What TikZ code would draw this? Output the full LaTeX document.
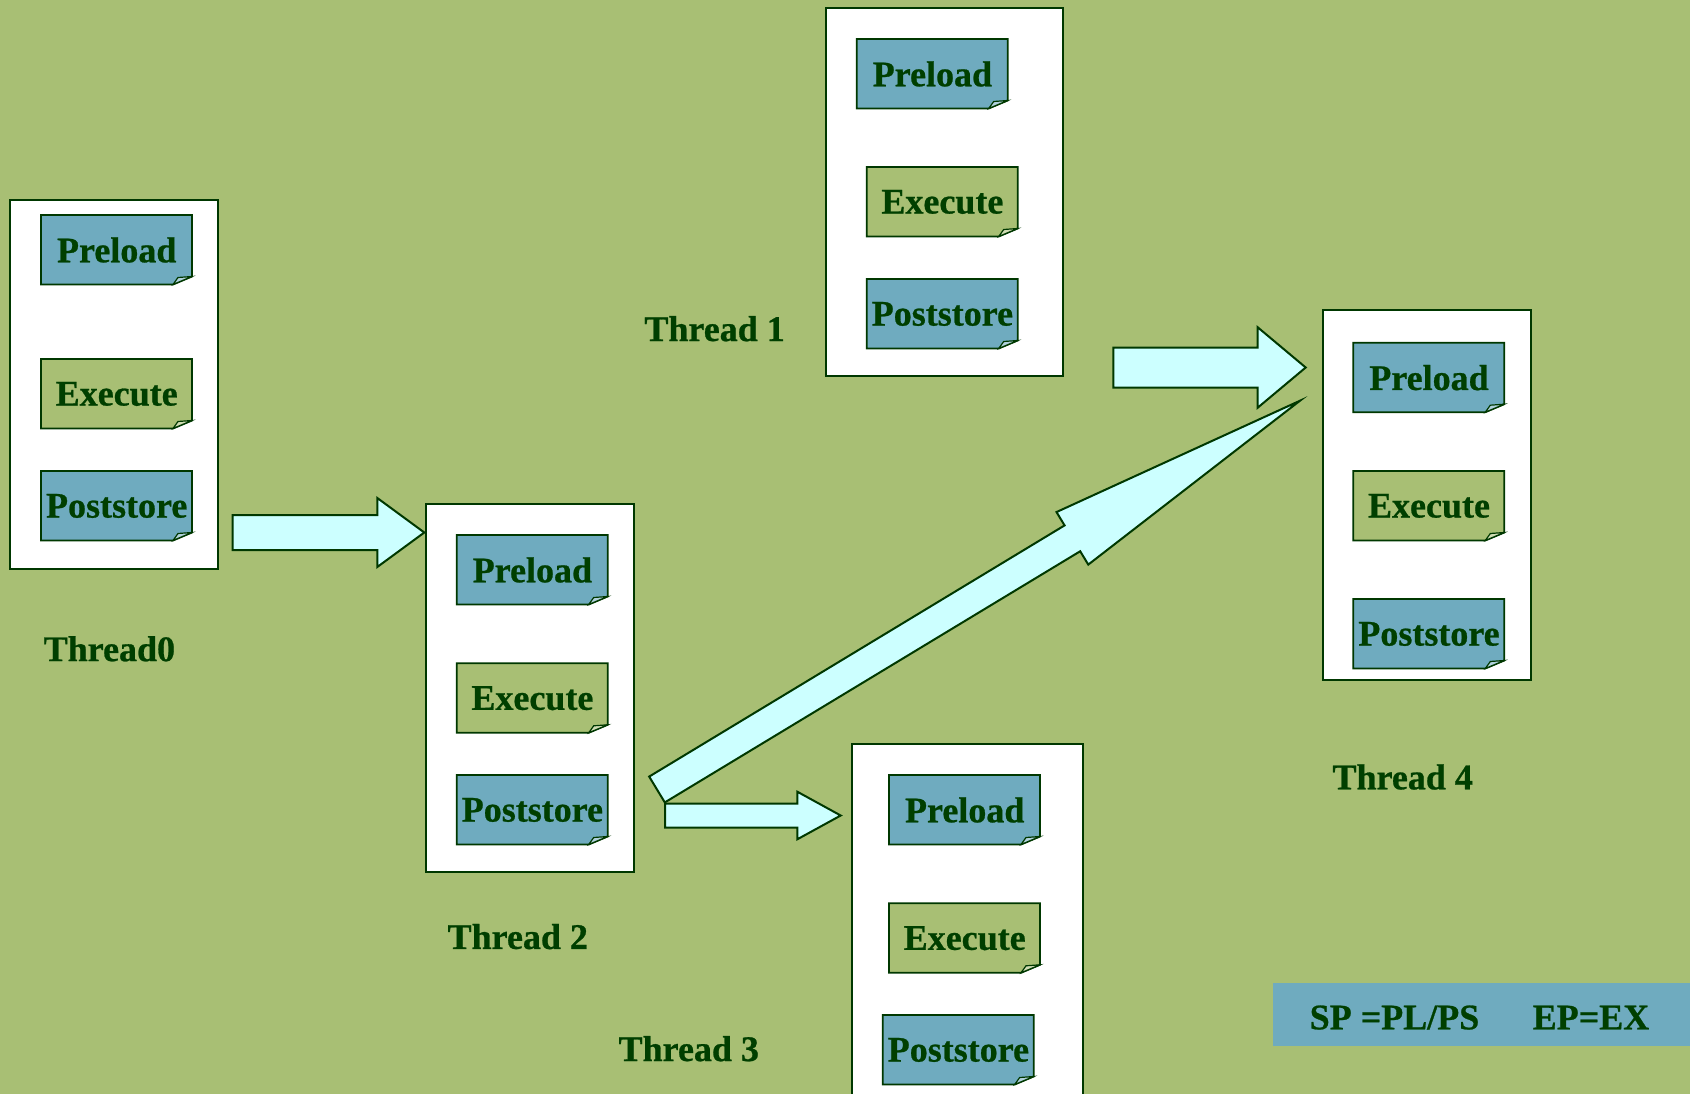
\documentclass[tikz,border=0pt]{standalone}
\usepackage{fontspec}
\setmainfont[BoldFeatures={FakeBold=0.7}]{Liberation Serif}
\usetikzlibrary{calc}

\definecolor{bg}{HTML}{A8BF74}
\definecolor{noteblue}{HTML}{6FABBF}
\definecolor{ink}{HTML}{003F00}
\definecolor{edge}{HTML}{003800}
\definecolor{flow}{HTML}{CCFFFF}

\tikzset{
  threadframe/.style={draw=edge, line width=2pt, fill=white, inner sep=0pt, anchor=north west},
  notebody/.style={draw=edge, line width=1.8pt, line join=miter, fill=#1},
  notecurl/.style={draw=edge, line width=1.2pt, fill=#1!55!white},
  notetext/.style={inner sep=0pt, text=ink, font=\fontsize{36}{40}\selectfont\bfseries,
                   anchor=north west, minimum width=151pt, minimum height=69.5pt},
  threadlabel/.style={inner sep=0pt, text=ink, font=\fontsize{36}{40}\selectfont\bfseries},
  legendtext/.style={inner sep=0pt, text=ink, font=\fontsize{36}{40}\selectfont\bfseries, anchor=base west},
  flowarrow/.style={draw=edge, line width=2pt, fill=flow, line join=miter},
}

% folded-corner note: name, x, y (top left), fill colour, text
\newcommand\stepnote[5]{%
  \filldraw[notebody=#4] (#2,#3) -- ++(151,0) -- ++(0,61.5) -- ++(-19,8) -- ++(-132,0) -- cycle;
  \filldraw[notecurl=#4] ($(#2,#3)+(132,69.5)$) -- ++(5,-7) -- ++(14,-1) -- cycle;
  \node[notetext] (#1) at (#2,#3) {#5};
}

% block arrow: tail, tip, shaft half width, head half width, head length
\newcommand\blockarrow[5]{%
  \coordinate (ba-base) at ($(#2)!#5!(#1)$);
  \draw[flowarrow] ($(#1)!#3!90:(#2)$) -- ($(ba-base)!#3!90:(#2)$)
     -- ($(ba-base)!#4!90:(#2)$) -- (#2) -- ($(ba-base)!#4!-90:(#2)$)
     -- ($(ba-base)!#3!-90:(#2)$) -- ($(#1)!#3!-90:(#2)$) -- cycle;
}

\begin{document}
\begin{tikzpicture}[x=1pt,y=-1pt]
\useasboundingbox (0,0) rectangle (1690,1094);
\fill[bg] (0,0) rectangle (1690,1094);
\clip (0,0) rectangle (1690,1094);

% thread frames
\node[threadframe, minimum width=207.7pt, minimum height=368.4pt] (t0) at (9,199.3) {};
\node[threadframe, minimum width=236.7pt, minimum height=367.7pt] (t1) at (825,7.3) {};
\node[threadframe, minimum width=207.7pt, minimum height=367.7pt] (t2) at (425,503.3) {};
\node[threadframe, minimum width=231pt,   minimum height=368pt]   (t3) at (850.7,743.3) {};
\node[threadframe, minimum width=207.7pt, minimum height=370.3pt] (t4) at (1322.3,309) {};

% stages of each thread
\stepnote{t0pl}{41}{215}{noteblue}{Preload}
\stepnote{t0ex}{41}{359}{bg}{Execute}
\stepnote{t0ps}{41}{471}{noteblue}{Poststore}

\stepnote{t1pl}{856.7}{39}{noteblue}{Preload}
\stepnote{t1ex}{866.7}{167}{bg}{Execute}
\stepnote{t1ps}{866.7}{279}{noteblue}{Poststore}

\stepnote{t2pl}{456.7}{535}{noteblue}{Preload}
\stepnote{t2ex}{456.7}{663.3}{bg}{Execute}
\stepnote{t2ps}{456.7}{775}{noteblue}{Poststore}

\stepnote{t3pl}{889}{775}{noteblue}{Preload}
\stepnote{t3ex}{889}{903.3}{bg}{Execute}
\stepnote{t3ps}{882.7}{1015}{noteblue}{Poststore}

\stepnote{t4pl}{1353.3}{342.7}{noteblue}{Preload}
\stepnote{t4ex}{1353.3}{471}{bg}{Execute}
\stepnote{t4ps}{1353.3}{599}{noteblue}{Poststore}

% thread names
\node[threadlabel] (l0) at (109.4,648.8) {Thread0};
\node[threadlabel] (l1) at (714.6,328.7) {Thread 1};
\node[threadlabel] (l2) at (517.8,936.6) {Thread 2};
\node[threadlabel] (l3) at (688.8,1048.7) {Thread 3};
\node[threadlabel] (l4) at (1402.7,777) {Thread 4};

% hand-over arrows
\coordinate (a1tail) at (232.7,532.5);
\coordinate (a1tip)  at (424.3,532.5);
\blockarrow{a1tail}{a1tip}{17.5pt}{34.5pt}{47pt}

\coordinate (a2tail) at (1113.3,367.5);
\coordinate (a2tip)  at (1305.7,367.5);
\blockarrow{a2tail}{a2tip}{20pt}{40.2pt}{48pt}

\coordinate (a3tail) at (665,815.5);
\coordinate (a3tip)  at (840.7,815.5);
\blockarrow{a3tail}{a3tip}{12pt}{23.8pt}{43.4pt}

\coordinate (a4tail) at (657,789.5);
\coordinate (a4tip)  at (1300,400.7);
\blockarrow{a4tail}{a4tip}{15.1pt}{30.7pt}{266pt}

% legend
\fill[noteblue] (1272.7,983.3) rectangle (1690,1045.7);
\node[legendtext] (lg1) at (1309.5,1029.3) {SP =PL/PS};
\node[legendtext] (lg2) at (1532.5,1029.3) {EP=EX};
\end{tikzpicture}
\end{document}
